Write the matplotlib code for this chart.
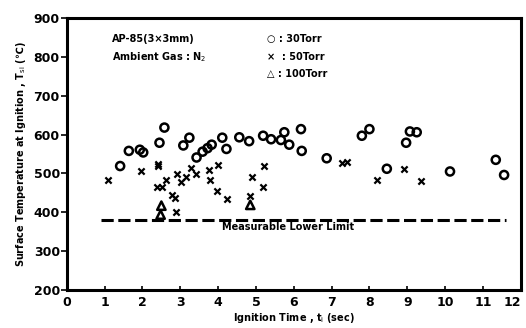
import matplotlib
matplotlib.use("Agg")
import matplotlib.pyplot as plt

# 30 Torr (open circles)
t30 = [1.41, 1.64, 1.93, 2.02, 2.45, 2.58, 3.08, 3.24, 3.43, 3.59, 3.72, 3.83,
       4.11, 4.22, 4.56, 4.82, 5.19, 5.40, 5.66, 5.75, 5.88, 6.19, 6.21, 6.87,
       7.80, 8.00, 8.46, 8.97, 9.07, 9.25, 10.13, 11.34, 11.56]
T30 = [519, 558, 561, 554, 579, 618, 572, 592, 541, 556, 565, 574,
       592, 563, 593, 583, 597, 588, 586, 606, 574, 614, 558, 539,
       597, 614, 512, 579, 608, 606, 505, 535, 496]
# 50 Torr (x)
t50 = [1.08, 1.96, 2.40, 2.42, 2.38, 2.52, 2.62, 2.77, 2.86, 2.88, 2.91, 3.01,
       3.15, 3.27, 3.41, 3.76, 3.78, 3.99, 3.98, 4.24, 4.89, 4.85, 5.22, 5.19,
       7.28, 7.42, 8.19, 8.92, 9.37]
T50 = [484, 507, 524, 518, 465, 465, 484, 445, 436, 400, 499, 479,
       492, 513, 499, 509, 484, 521, 456, 435, 492, 441, 520, 466,
       526, 529, 483, 511, 481]
# 100 Torr (triangles)
t100 = [2.50, 2.48, 4.85]
T100 = [417, 394, 419]

lower_limit = 380
limit_t = [0.9, 11.6]

xticks = list(range(0, 13))
yticks = list(range(200, 1000, 100))

plt.rcParams['font.family'] = ['DejaVu Sans']
fig = plt.figure(figsize=(5.26, 3.28), dpi=100)
ax = fig.add_axes([0.127, 0.116, 0.863, 0.829])

ax.scatter(t30, T30, s=34, facecolors='none', edgecolors='black', linewidths=1.8, marker='o', zorder=3)
ax.scatter(t50, T50, s=20, c='black', marker='x', linewidths=1.6, zorder=3)
ax.scatter(t100, T100, s=36, facecolors='none', edgecolors='black', linewidths=1.8, marker='^', zorder=3)

ax.plot(limit_t, [lower_limit, lower_limit], ls=(0, (4, 1.5)), color='black', lw=2.2)
ax.text(4.1, 362, 'Measurable Lower Limit', fontsize=7, fontweight='bold', va='center')

ax.text(1.2, 845, 'AP-85(3×3mm)', fontsize=7, fontweight='bold', va='center')
ax.text(1.2, 800, 'Ambient Gas : N$_2$', fontsize=7, fontweight='bold', va='center')
ax.text(5.3, 845, '○ : 30Torr', fontsize=7, fontweight='bold', va='center')
ax.text(5.3, 800, '×  : 50Torr', fontsize=7, fontweight='bold', va='center')
ax.text(5.3, 757, '△ : 100Torr', fontsize=7, fontweight='bold', va='center')

ax.set_xlim(0, 12)
ax.set_ylim(200, 900)
ax.set_xticks(xticks)
ax.set_yticks(yticks)
ax.set_xticklabels([str(v) for v in xticks], fontsize=9, fontweight='bold')
ax.set_yticklabels([str(v) for v in yticks], fontsize=9, fontweight='bold')
labels = ax.get_xticklabels()
labels[-1].set_horizontalalignment('right')
labels[-1].set_x(12.12)
ax.tick_params(axis='x', direction='in', length=3, width=1.2, pad=4)
ax.tick_params(axis='y', direction='out', length=4, width=1.2, pad=1)
for s in ax.spines.values():
    s.set_linewidth(2.2)

ax.set_xlabel('Ignition Time , t$_\\mathrm{i}$ (sec)', fontsize=7, fontweight='bold', labelpad=2)
ax.set_ylabel('Surface Temperature at Ignition , T$_\\mathrm{si}$ (℃)', fontsize=7, fontweight='bold', labelpad=4)

fig.savefig('out.png', dpi=100)
